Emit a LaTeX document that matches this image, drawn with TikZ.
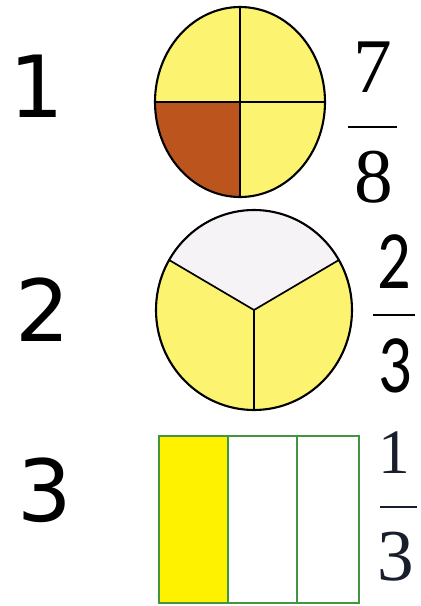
\documentclass[tikz,border=0pt]{standalone}
\usepackage{fontspec}
\usepackage{graphicx}
\setmainfont{Liberation Serif}
\newfontfamily\labelfont{DejaVu Sans}
\newfontfamily\calfont{Carlito}
\usetikzlibrary{positioning}

\definecolor{pieyellow}{RGB}{252,243,112}
\definecolor{piebrown}{RGB}{188,84,30}
\definecolor{piewhite}{RGB}{245,243,246}
\definecolor{boxgreen}{RGB}{66,150,66}
\definecolor{inkblue}{RGB}{24,30,44}

\tikzset{
  rowlabel/.style={inner sep=0pt, font=\labelfont\fontsize{61}{61}\selectfont},
  fracdigit/.style={inner sep=0pt, font=\fontsize{55}{55}\selectfont},
  outline/.style={line width=1.5pt},
  divider/.style={line width=1.2pt},
}

\begin{document}
\begin{tikzpicture}[x=0.025cm,y=-0.025cm]
  \useasboundingbox (0,0) rectangle (421,606);
  % Row labels
  \node[rowlabel] (lbl1) at (37,86) {1};
  \node[rowlabel] (lbl2) at (43,310) {2};
  \node[rowlabel] (lbl3) at (45,490) {3};

  % Row 1: circle in quarters
  \begin{scope}
    \fill[pieyellow] (240,102) ellipse [x radius=85, y radius=95];
    \begin{scope}
      \clip (240,102) ellipse [x radius=85, y radius=95];
      \fill[piebrown] (150,102) rectangle (240,200);
    \end{scope}
    \draw[divider] (155,102) -- (325,102);
    \draw[divider] (240,7) -- (240,197);
    \draw[outline] (240,102) ellipse [x radius=85, y radius=95];
  \end{scope}
  \node[fracdigit] (num1) at (373,67.5) {7};
  \node[fracdigit] (den1) at (374,177.5) {8};
  \draw[line width=2pt] (348,127) -- (397,127);

  % Row 2: circle in thirds
  \begin{scope}
    \fill[pieyellow] (254,310) ellipse [x radius=98, y radius=100];
    \begin{scope}
      \clip (254,310) ellipse [x radius=98, y radius=100];
      \fill[piewhite] (254,310) -- (80.8,210) -- (80.8,100) -- (427.2,100) -- (427.2,210) -- cycle;
    \end{scope}
    \coordinate (mid) at (254,310);
    \draw[divider] (mid) -- (169.1,260);
    \draw[divider] (mid) -- (338.9,260);
    \draw[divider] (mid) -- (254,410);
    \draw[outline] (mid) ellipse [x radius=98, y radius=100];
  \end{scope}
  \node[inner sep=0pt, font=\calfont\fontsize{59}{59}\selectfont] (num2) at (394,261.5) {\scalebox{0.8}[1]{2}};
  \node[inner sep=0pt, font=\calfont\fontsize{59}{59}\selectfont] (den2) at (395,366) {\scalebox{0.8}[1]{3}};
  \draw[line width=2pt] (373,315) -- (415,315);

  % Row 3: strip in thirds
  \fill[yellow] (159,436) rectangle (228,603);
  \foreach \x in {228,297} {
    \draw[boxgreen, line width=1.4pt] (\x,436) -- (\x,603);
  }
  \draw[boxgreen, line width=1.4pt] (159,436) rectangle (359,603);
  \node[fracdigit, text=inkblue, font=\fontsize{45}{45}\selectfont] (num3) at (394.5,453) {1};
  \node[fracdigit, text=inkblue, font=\fontsize{52}{52}\selectfont] (den3) at (396,557) {3};
  \draw[inkblue, line width=2pt] (380,507) -- (417,507);
\end{tikzpicture}
\end{document}
